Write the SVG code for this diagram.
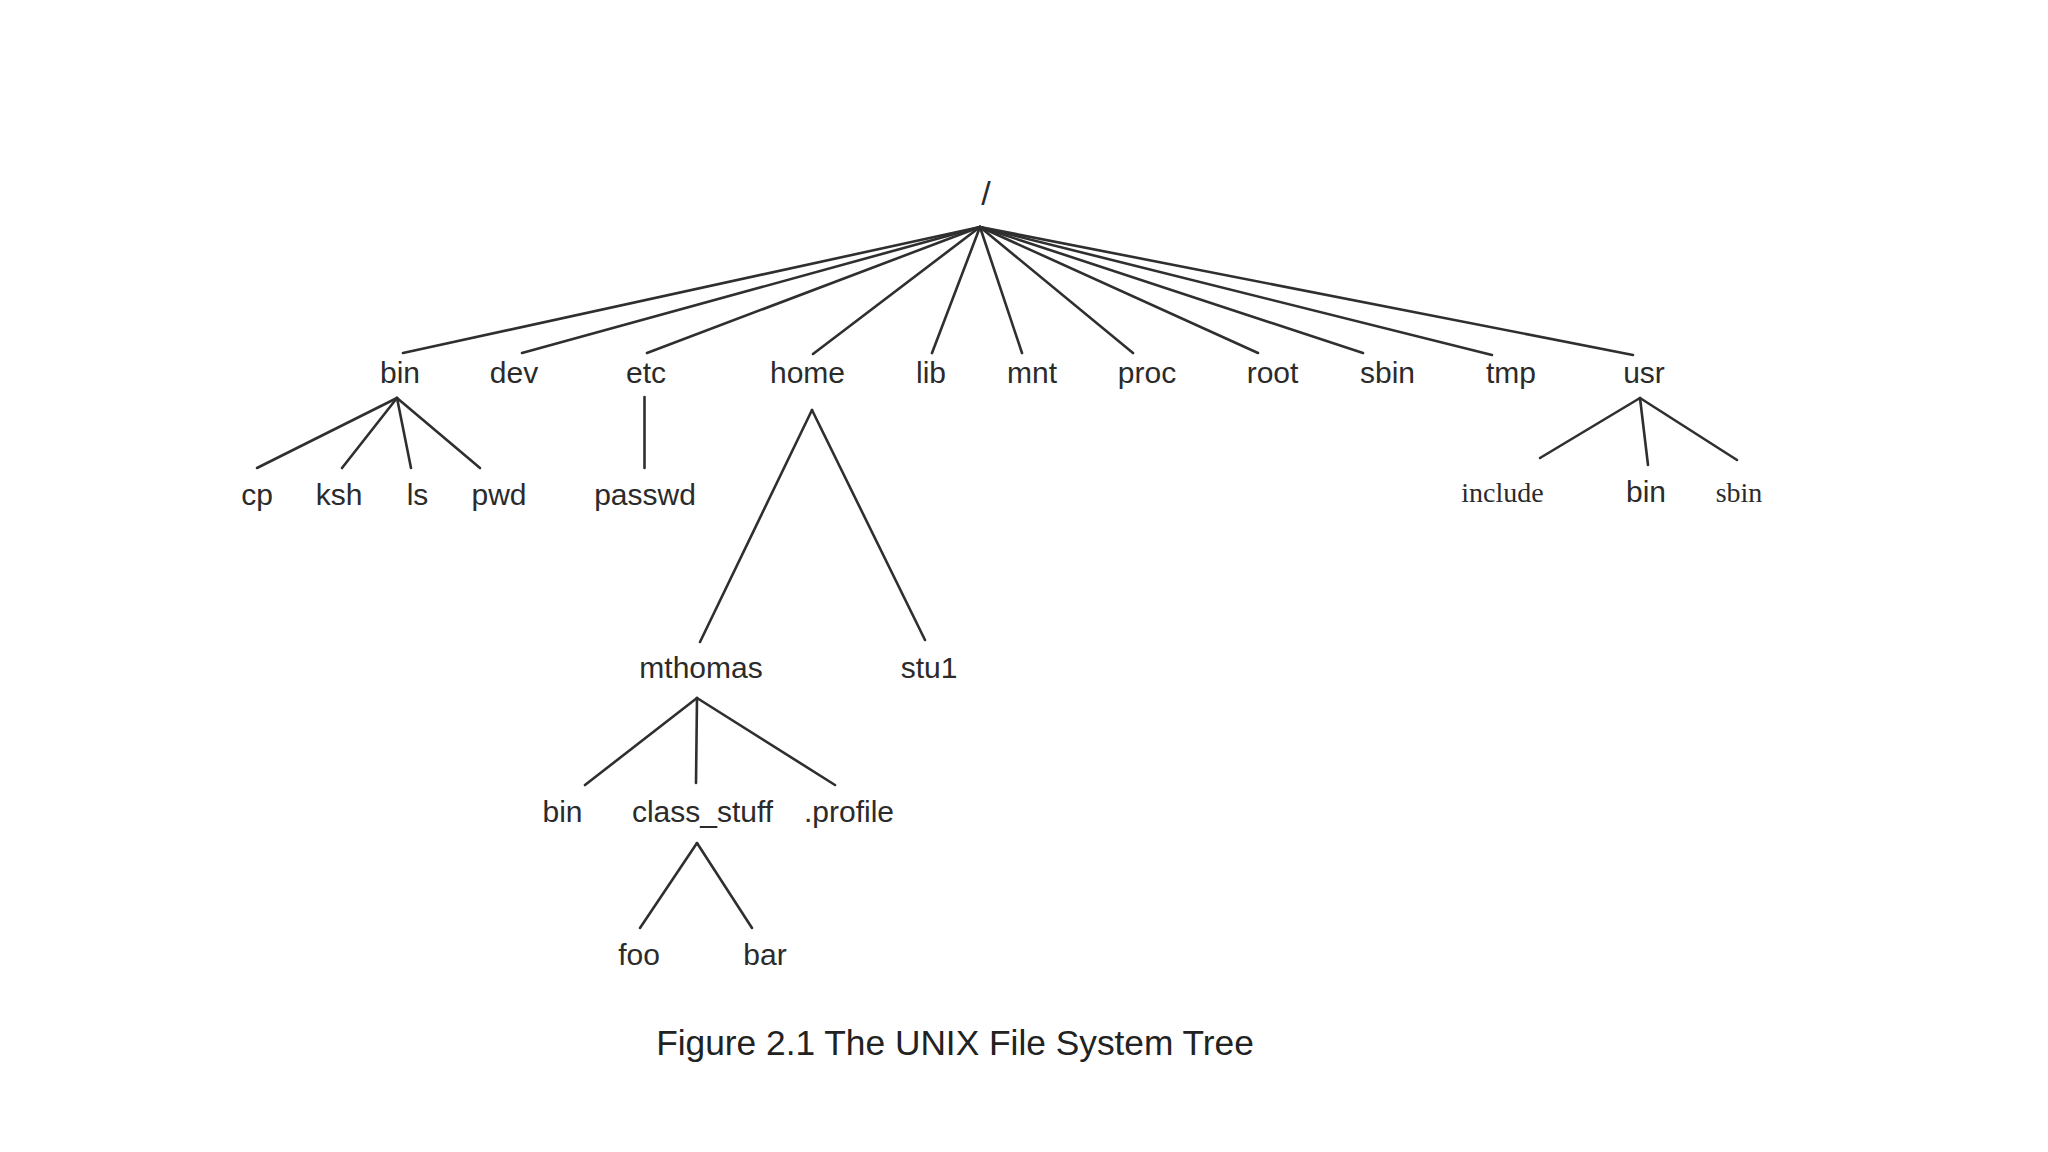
<svg xmlns="http://www.w3.org/2000/svg" width="2048" height="1152" viewBox="0 0 2048 1152">
<style>
.t{font-family:"Liberation Sans",Arial,sans-serif;font-size:30px;fill:#2b2b2b;text-anchor:middle}
.s{font-family:"Liberation Serif","Times New Roman",serif;font-size:28px;fill:#2b2b2b;text-anchor:middle}
.cap{font-family:"Liberation Sans",Arial,sans-serif;font-size:35.3px;fill:#222;text-anchor:middle}
.e line{stroke:#2f2f2f;stroke-width:2.6;stroke-linecap:round}
</style>
<rect width="2048" height="1152" fill="#ffffff"/>
<g id="connectors" class="e">
<line x1="980" y1="227" x2="403" y2="353"/>
<line x1="980" y1="227" x2="522" y2="353"/>
<line x1="980" y1="227" x2="647" y2="353"/>
<line x1="980" y1="227" x2="813" y2="354"/>
<line x1="980" y1="227" x2="932" y2="353"/>
<line x1="980" y1="227" x2="1022" y2="353"/>
<line x1="980" y1="227" x2="1133" y2="353"/>
<line x1="980" y1="227" x2="1258" y2="353"/>
<line x1="980" y1="227" x2="1363" y2="353"/>
<line x1="980" y1="227" x2="1492" y2="355"/>
<line x1="980" y1="227" x2="1633" y2="355"/>
<line x1="397" y1="398" x2="257" y2="468"/>
<line x1="397" y1="398" x2="342" y2="468"/>
<line x1="397" y1="398" x2="411" y2="468"/>
<line x1="397" y1="398" x2="480" y2="468"/>
<line x1="644.5" y1="397" x2="644.5" y2="468"/>
<line x1="812" y1="410" x2="700" y2="642"/>
<line x1="812" y1="410" x2="925" y2="640"/>
<line x1="1640" y1="398" x2="1540" y2="458"/>
<line x1="1640" y1="398" x2="1648" y2="465"/>
<line x1="1640" y1="398" x2="1737" y2="460"/>
<line x1="697" y1="698" x2="585" y2="785"/>
<line x1="697" y1="698" x2="696" y2="783"/>
<line x1="697" y1="698" x2="835" y2="785"/>
<line x1="697" y1="843" x2="640" y2="928"/>
<line x1="697" y1="843" x2="752" y2="928"/>
</g>
<g id="root"><text class="t" x="986" y="205" style="font-size:34px">/</text></g>
<g id="bin"><text class="t" x="400" y="383">bin</text></g>
<g id="dev"><text class="t" x="514" y="383">dev</text></g>
<g id="etc"><text class="t" x="646" y="383">etc</text></g>
<g id="home"><text class="t" x="807.5" y="383">home</text></g>
<g id="lib"><text class="t" x="931" y="383">lib</text></g>
<g id="mnt"><text class="t" x="1032" y="383">mnt</text></g>
<g id="proc"><text class="t" x="1147" y="383">proc</text></g>
<g id="root-dir"><text class="t" x="1272.5" y="383">root</text></g>
<g id="sbin"><text class="t" x="1387.5" y="383">sbin</text></g>
<g id="tmp"><text class="t" x="1511" y="383">tmp</text></g>
<g id="usr"><text class="t" x="1644" y="383">usr</text></g>
<g id="cp"><text class="t" x="257" y="505">cp</text></g>
<g id="ksh"><text class="t" x="339" y="505">ksh</text></g>
<g id="ls"><text class="t" x="417.5" y="505">ls</text></g>
<g id="pwd"><text class="t" x="499" y="505">pwd</text></g>
<g id="passwd"><text class="t" x="645" y="505">passwd</text></g>
<g id="usr-include"><text class="s" x="1502.5" y="502">include</text></g>
<g id="usr-bin"><text class="t" x="1646" y="502">bin</text></g>
<g id="usr-sbin"><text class="s" x="1739" y="502">sbin</text></g>
<g id="mthomas"><text class="t" x="701" y="678">mthomas</text></g>
<g id="stu1"><text class="t" x="929" y="678">stu1</text></g>
<g id="mthomas-bin"><text class="t" x="562.5" y="822">bin</text></g>
<g id="class_stuff"><text class="t" x="702.5" y="822">class_stuff</text></g>
<g id="profile"><text class="t" x="849" y="822">.profile</text></g>
<g id="foo"><text class="t" x="639" y="965">foo</text></g>
<g id="bar"><text class="t" x="765" y="965">bar</text></g>
<g id="caption"><text class="cap" x="955" y="1055">Figure 2.1 The UNIX File System Tree</text></g>
</svg>
